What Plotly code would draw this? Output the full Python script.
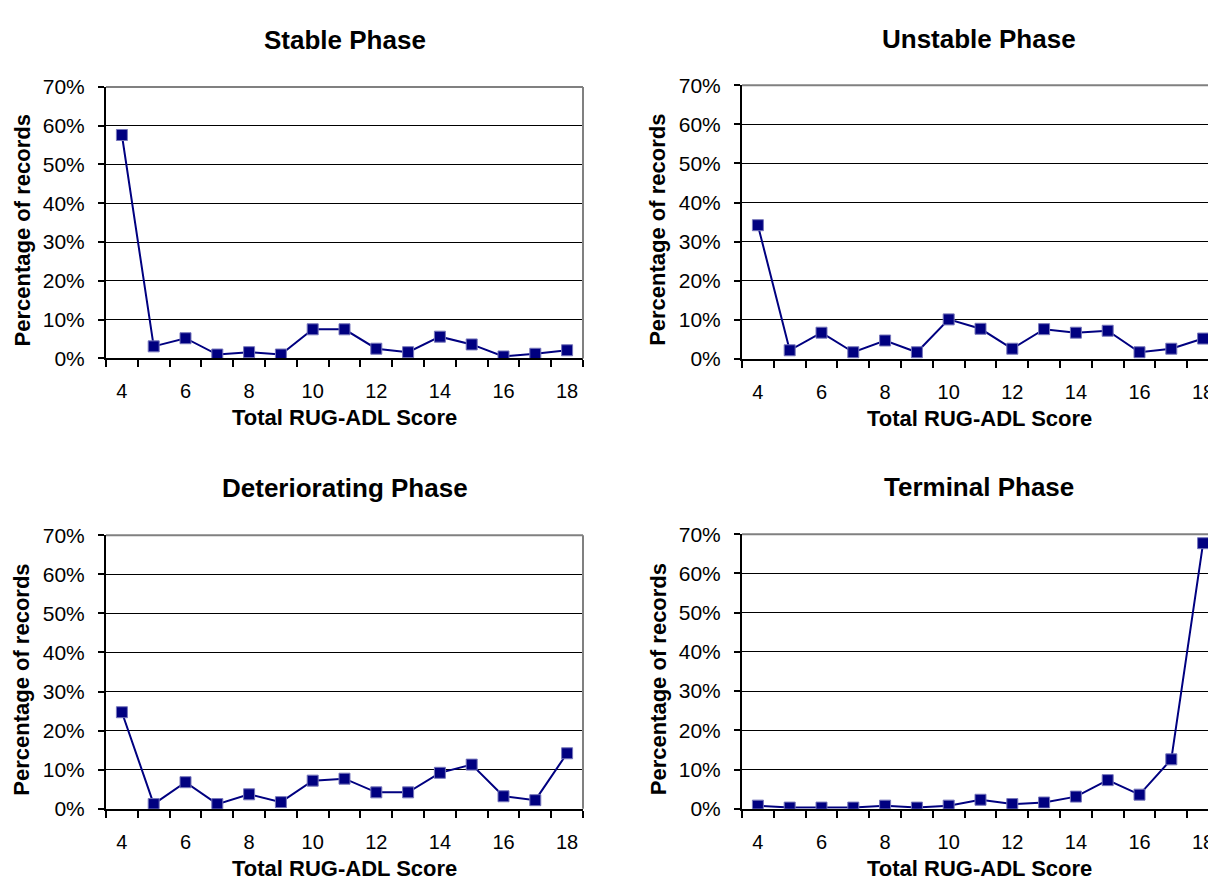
import plotly.graph_objects as go

# ---------------- data ----------------
scores = list(range(4, 19))
stable = [57.6, 3.1, 5.2, 1.0, 1.6, 1.0, 7.5, 7.5, 2.5, 1.6, 5.6, 3.6, 0.5, 1.2, 2.1]
unstable = [34.2, 2.2, 6.7, 1.7, 4.7, 1.7, 10.1, 7.7, 2.6, 7.6, 6.7, 7.2, 1.7, 2.6, 5.2]
deteriorating = [24.7, 1.2, 6.8, 1.2, 3.7, 1.7, 7.2, 7.7, 4.2, 4.2, 9.2, 11.3, 3.2, 2.2, 14.2]
terminal = [0.8, 0.3, 0.3, 0.3, 0.8, 0.3, 0.8, 2.3, 1.2, 1.6, 3.1, 7.3, 3.6, 12.6, 67.7]
series = [stable, unstable, deteriorating, terminal]
panel_titles = ["Stable Phase", "Unstable Phase", "Deteriorating Phase", "Terminal Phase"]
x_title = "Total RUG-ADL Score"
y_title = "Percentage of records"
x_ticks = [4, 6, 8, 10, 12, 14, 16, 18]
y_ticks = [0, 10, 20, 30, 40, 50, 60, 70]
y_ticktext = ["0%", "10%", "20%", "30%", "40%", "50%", "60%", "70%"]

# ---------------- layout helpers ----------------
OFF = 8                      # default page margin of the html body
W, H = 1216 - OFF, 886 - OFF
FONT = "Arial, Liberation Sans, sans-serif"
NAVY = "#000080"


def px(x):
    return (x - OFF) / W


def py(y):
    return 1 - (y - OFF) / H


# (left, right, top, bottom, x_range_max) in page pixels
panels = [
    (106, 583, 76.7, 355.5, 18.5),
    (742, 1216, 75.0, 356.0, 3.5 + (1216 - 742) / 31.8),
    (106, 583, 537.0, 818.0, 18.5),
    (742, 1216, 536.0, 818.0, 3.5 + (1216 - 742) / 31.8),
]

fig = go.Figure()
annotations = []
shapes = []

for i, (vals, title, (l, r, t, b, xmax)) in enumerate(zip(series, panel_titles, panels)):
    n = "" if i == 0 else str(i + 1)
    fig.add_trace(go.Scatter(
        x=scores, y=vals, mode="lines+markers",
        xaxis="x" + n, yaxis="y" + n,
        line=dict(color=NAVY, width=2),
        marker=dict(symbol="square", size=11, color=NAVY,
                    line=dict(color="#7777bb", width=1)),
        showlegend=False, hoverinfo="x+y",
    ))
    fig.update_layout(**{
        "xaxis" + n: dict(
            domain=[px(l), min(px(r), 1.0)], anchor="y" + n,
            range=[3.5, xmax], tickmode="array", tickvals=x_ticks,
            ticks="", showgrid=False, zeroline=False,
            showline=True, linecolor="black", linewidth=2,
            tickfont=dict(family=FONT, size=20, color="black"),
            ticklabelstandoff=14,
            minor=dict(tickmode="array", tickvals=[v + 0.5 for v in range(3, 19)],
                       ticks="outside", ticklen=7, tickwidth=2, tickcolor="black",
                       showgrid=False),
        ),
        "yaxis" + n: dict(
            domain=[py(b), py(t)], anchor="x" + n,
            range=[0, 70], tickmode="array", tickvals=y_ticks, ticktext=y_ticktext,
            ticks="outside", ticklen=6, tickwidth=2, tickcolor="black",
            showgrid=True, gridcolor="black", gridwidth=1, zeroline=False,
            showline=True, linecolor="black", linewidth=2,
            tickfont=dict(family=FONT, size=21, color="black"),
            ticklabelstandoff=9,
        ),
    })
    cx = (l + r) / 2 if i % 2 == 0 else 979
    annotations.append(dict(text="<b>%s</b>" % title, x=px(cx), y=py(t - 48),
                            xref="paper", yref="paper", showarrow=False,
                            xanchor="center", yanchor="middle",
                            font=dict(family=FONT, size=26, color="black")))
    annotations.append(dict(text="<b>%s</b>" % x_title, x=px(cx), y=py(b + 61),
                            xref="paper", yref="paper", showarrow=False,
                            xanchor="center", yanchor="middle",
                            font=dict(family=FONT, size=22, color="black")))
    annotations.append(dict(text="<b>%s</b>" % y_title, x=px(l - 84), y=py((t + b) / 2 + 8),
                            xref="paper", yref="paper", showarrow=False, textangle=-90,
                            xanchor="center", yanchor="middle",
                            font=dict(family=FONT, size=22, color="black")))
    # plot-area border (top and right) in grey
    shapes.append(dict(type="line", xref="x%s domain" % n, yref="y%s domain" % n,
                       x0=0, x1=1, y0=1, y1=1, line=dict(color="#808080", width=2)))
    shapes.append(dict(type="line", xref="x%s domain" % n, yref="y%s domain" % n,
                       x0=1, x1=1, y0=0, y1=1, line=dict(color="#808080", width=2)))

fig.update_layout(
    width=W, height=H, margin=dict(l=0, r=0, t=0, b=0),
    paper_bgcolor="white", plot_bgcolor="white",
    annotations=annotations, shapes=shapes,
    font=dict(family=FONT, color="black"),
)

fig.write_html("out.html")
